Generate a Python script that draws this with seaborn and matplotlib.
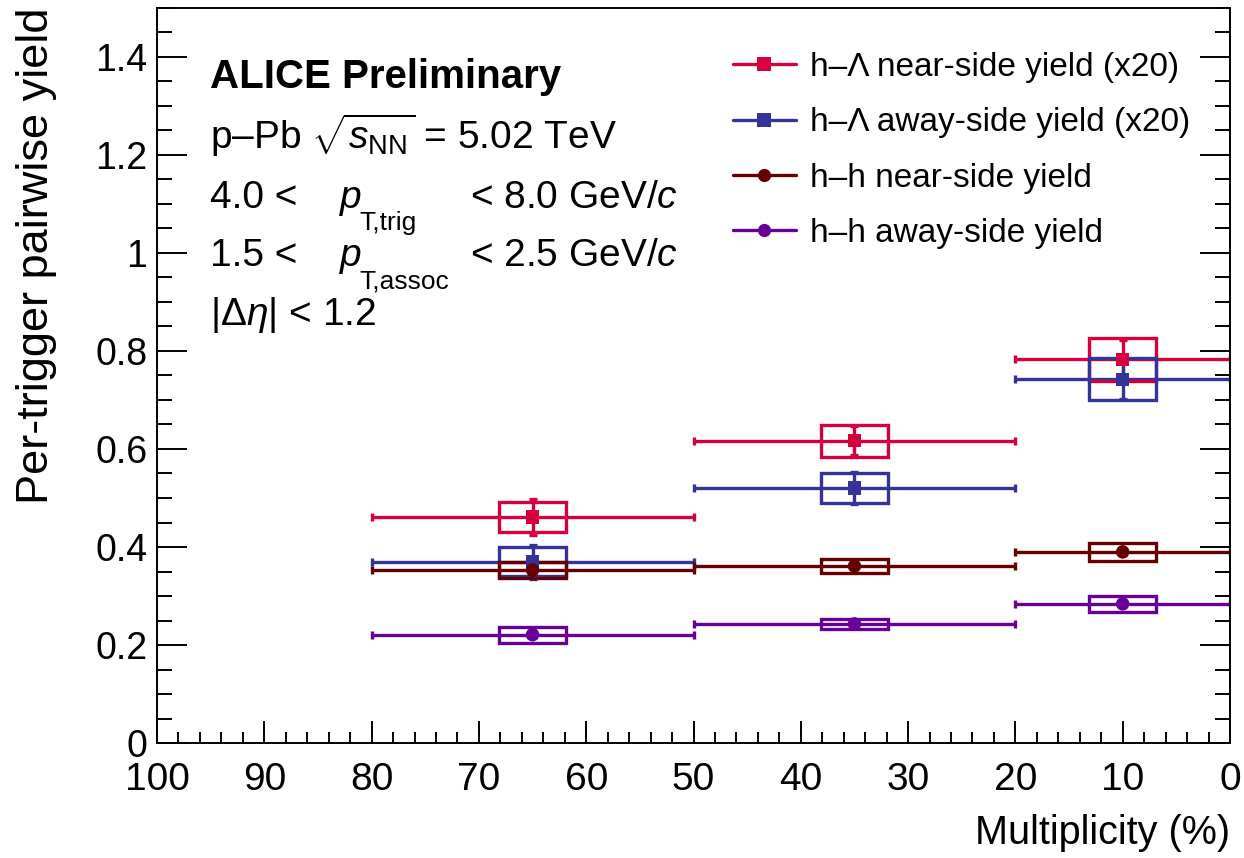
import matplotlib
matplotlib.use("Agg")
import matplotlib.pyplot as plt
from matplotlib.lines import Line2D
from matplotlib.ticker import MultipleLocator
import numpy as np
import pandas as pd
import seaborn as sns

# bin centres and edges in multiplicity (%)
mult = np.array([65.0, 35.0, 10.0])
mult_lo = np.array([80.0, 50.0, 20.0])
mult_hi = np.array([50.0, 20.0, 0.0])

series_names = [
    "h–Λ near-side yield (x20)",
    "h–Λ away-side yield (x20)",
    "h–h near-side yield",
    "h–h away-side yield",
]
hl_near = np.array([0.461, 0.617, 0.783])
hl_near_stat = np.array([0.036, 0.029, 0.040])
hl_near_sys = np.array([0.031, 0.033, 0.044])

hl_away = np.array([0.370, 0.520, 0.742])
hl_away_stat = np.array([0.035, 0.033, 0.040])
hl_away_sys = np.array([0.029, 0.030, 0.043])

hh_near = np.array([0.353, 0.361, 0.390])
hh_near_stat = np.array([0.006, 0.005, 0.006])
hh_near_sys = np.array([0.017, 0.015, 0.019])

hh_away = np.array([0.221, 0.243, 0.284])
hh_away_stat = np.array([0.005, 0.004, 0.005])
hh_away_sys = np.array([0.016, 0.011, 0.016])

colors = ["#d6003c", "#333399", "#660000", "#660099"]
markers = ["s", "s", "o", "o"]

x_ticks = [100, 90, 80, 70, 60, 50, 40, 30, 20, 10, 0]
y_ticks = [0, 0.2, 0.4, 0.6, 0.8, 1, 1.2, 1.4]
y_ticklabels = ["0", "0.2", "0.4", "0.6", "0.8", "1", "1.2", "1.4"]

sns.set_style("ticks")
plt.rcParams["font.family"] = ["Liberation Sans", "DejaVu Sans"]
plt.rcParams["mathtext.fontset"] = "custom"
plt.rcParams["mathtext.rm"] = "Liberation Sans"
plt.rcParams["mathtext.it"] = "Liberation Sans:italic"
plt.rcParams["mathtext.bf"] = "Liberation Sans:bold"
plt.rcParams["text.color"] = "black"
plt.rcParams["axes.labelcolor"] = "black"
plt.rcParams["xtick.color"] = "black"
plt.rcParams["ytick.color"] = "black"

W, H = 1244, 858
fig = plt.figure(figsize=(W / 100, H / 100), dpi=100)
ax = fig.add_axes([157 / W, (H - 743) / H, (1230 - 157) / W, (743 - 8) / H])


def px(x, y):
    return x / W, 1 - y / H


values = [hl_near, hl_away, hh_near, hh_away]
stats = [hl_near_stat, hl_away_stat, hh_near_stat, hh_away_stat]
syss = [hl_near_sys, hl_away_sys, hh_near_sys, hh_away_sys]
box_half = 3.1
lw = 2.4

for name, y, st, sy, c in zip(series_names, values, stats, syss, colors):
    ax.errorbar(mult, y, xerr=[mult_lo - mult, mult - mult_hi], yerr=st,
                fmt="none", ecolor=c, elinewidth=lw, capsize=3, capthick=lw,
                zorder=2)
    ax.bar(mult, 2 * sy, bottom=y - sy, width=2 * box_half, fill=False,
           edgecolor=c, linewidth=lw, zorder=3)

df = pd.concat([
    pd.DataFrame({"mult": mult, "value": y, "series": name})
    for name, y in zip(series_names, values)
])
sns.scatterplot(data=df, x="mult", y="value", hue="series", style="series",
                palette=dict(zip(series_names, colors)),
                markers=dict(zip(series_names, markers)),
                s=95, linewidth=0, legend=False, zorder=4, ax=ax)

ax.set_xlim(100, 0)
ax.set_ylim(0, 1.5)
ax.set_xticks(x_ticks)
ax.set_xticklabels([str(t) for t in x_ticks])
ax.set_yticks(y_ticks)
ax.set_yticklabels(y_ticklabels)
ax.xaxis.set_minor_locator(MultipleLocator(2))
ax.yaxis.set_minor_locator(MultipleLocator(0.05))

ax.tick_params(axis="both", which="both", direction="in", width=1.4,
               colors="black", labelsize=27, right=True, top=False)
ax.tick_params(axis="x", which="major", length=16, pad=14, labelsize=28)
ax.tick_params(axis="x", which="minor", length=8)
ax.tick_params(axis="y", which="major", length=21.5, pad=7)
ax.tick_params(axis="y", which="minor", length=10.8)
for sp in ax.spines.values():
    sp.set_visible(True)
    sp.set_linewidth(1.4)
    sp.set_color("black")

ax.set_xlabel("Multiplicity (%)", fontsize=28.5, loc="right")
ax.xaxis.set_label_coords(1.0, -0.096)
ax.set_ylabel("Per-trigger pairwise yield", fontsize=32.5, loc="top")
ax.yaxis.set_label_coords(-0.093, 1.0)

# header text
fig.text(*px(210, 88), "ALICE Preliminary", fontsize=29, fontweight="bold",
         va="baseline")
fig.text(*px(210, 149), r"p–Pb $\sqrt{s_{\rm NN}}$ = 5.02 TeV", fontsize=28,
         va="baseline")
fig.text(*px(210, 208), "4.0 <", fontsize=28, va="baseline")
fig.text(*px(340, 208), "p", fontsize=28, style="italic", va="baseline")
fig.text(*px(359, 230), "T,trig", fontsize=19, va="baseline")
fig.text(*px(470, 208), "< 8.0 GeV/$c$", fontsize=28, va="baseline")
fig.text(*px(210, 266), "1.5 <", fontsize=28, va="baseline")
fig.text(*px(340, 266), "p", fontsize=28, style="italic", va="baseline")
fig.text(*px(359, 288), "T,assoc", fontsize=19, va="baseline")
fig.text(*px(470, 266), "< 2.5 GeV/$c$", fontsize=28, va="baseline")
fig.text(*px(210, 325), r"$|\Delta\eta|$ < 1.2", fontsize=28, va="baseline")

handles = [Line2D([], [], color=c, marker=m, markersize=9.5, lw=lw,
                  markeredgewidth=0)
           for c, m in zip(colors, markers)]
fig.legend(handles, series_names, loc="upper left",
           bbox_to_anchor=px(733, 52), fontsize=24, frameon=False,
           handlelength=1.88, handletextpad=0.42, labelspacing=0.73,
           borderpad=0, borderaxespad=0)

fig.savefig("out.png", dpi=100)
